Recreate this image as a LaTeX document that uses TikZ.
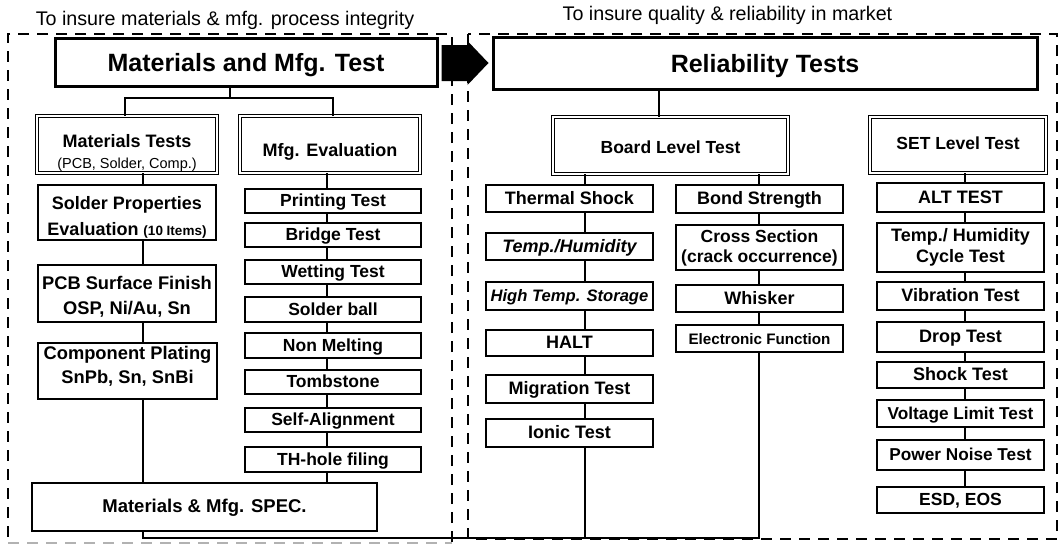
\documentclass[tikz,border=0pt]{standalone}
\usepackage{fontspec}
\setmainfont{Liberation Sans}
\begin{document}
\begin{tikzpicture}[x=1pt,y=-1pt,
  box/.style={draw, line width=1.3pt, inner sep=0pt, align=center, font=\bfseries\fontsize{17.5}{21}\selectfont},
  one/.style={text height=11pt, text depth=0pt},
  bigbox/.style={box, line width=3pt, font=\bfseries\fontsize{25}{28}\selectfont, text height=18pt, text depth=0pt},
  dbox/.style={box, double, double distance=2.4pt, line width=0.9pt},
  sz/.style 2 args={minimum width=#1pt, minimum height=#2pt},
  conn/.style={line width=1.8pt},
  dframe/.style={line width=1.8pt, dash pattern=on 11pt off 8pt},
  captxt/.style={font=\fontsize{19.7}{22}\selectfont, anchor=base}]
\useasboundingbox (0,0) rectangle (1061,547);
\fill[white] (0,0) rectangle (1061,547);

% captions
\node[captxt] (c1) at (225,25) {To insure materials \& mfg. process integrity};
\node[captxt] (c2) at (727.5,20.5) {To insure quality \& reliability in market};

% dashed frames
\draw[dframe] (452,542) -- (452,34) -- (8,34) -- (8,542);
\draw[dframe, gray!60, line width=1.2pt] (8,543) -- (452,543);
\draw[dframe] (468,34) rectangle (1057,539);

% left part
\node[bigbox, sz={382}{48}] (mmt) at (246,62) {Materials and Mfg. Test};
\node[dbox, sz={180}{57}] (mt) at (127,144.5) {\rule{0pt}{29pt}\fontsize{18}{23}\selectfont Materials Tests\\{\mdseries\fontsize{14.5}{16}\selectfont (PCB, Solder, Comp.)}};
\node[dbox, sz={180}{57}, font=\bfseries\fontsize{18}{21}\selectfont, text height=24pt, text depth=0pt] (me) at (330,144.5) {Mfg. Evaluation};

\node[box, sz={178}{55}, font=\bfseries\fontsize{18}{26}\selectfont] (sp) at (127,212.5) {\rule{0pt}{22pt}Solder Properties\\Evaluation {\fontsize{13.5}{15}\selectfont(10 Items)}};
\node[box, sz={178}{57}, font=\bfseries\fontsize{18.3}{25}\selectfont] (pcb) at (127,293.5) {\rule{0pt}{20pt}PCB Surface Finish\\OSP, Ni/Au, Sn};
\node[box, sz={179}{56}, font=\bfseries\fontsize{18.3}{24}\selectfont] (cp) at (127.5,371) {Component Plating\\SnPb, Sn, SnBi\rule[-12pt]{0pt}{12pt}};
\node[box, one, sz={345}{48}, font=\bfseries\fontsize{18.5}{21}\selectfont] (spec) at (204.5,507) {Materials \& Mfg. SPEC.};

\node[box, one, sz={176}{24}] (pt) at (333,201) {Printing Test};
\node[box, one, sz={176}{24}] (bt) at (333,235) {Bridge Test};
\node[box, one, sz={176}{24}] (wt) at (333,272) {Wetting Test};
\node[box, one, sz={176}{25}] (sb) at (333,309.5) {Solder ball};
\node[box, one, sz={176}{25}] (nm) at (333,345.5) {Non Melting};
\node[box, one, sz={176}{24}] (ts) at (333,382) {Tombstone};
\node[box, one, sz={176}{24}] (sa) at (333,420) {Self-Alignment};
\node[box, one, sz={176}{25}] (th) at (333,459.5) {TH-hole filing};

% left connectors
\coordinate (ja) at (125,98);
\coordinate (jb) at (333,98);
\coordinate (jc) at (230,98);
\coordinate (ca) at (143,0);
\coordinate (cb) at (327,0);
\draw[conn] (mmt.south -| jc) -- (jc);
\draw[conn] (mt.north -| ja) -- (ja) -- (jb) -- (me.north -| jb);
\draw[conn] (mt.south -| ca) -- (sp.north -| ca);
\draw[conn] (sp.south -| ca) -- (pcb.north -| ca);
\draw[conn] (pcb.south -| ca) -- (cp.north -| ca);
\draw[conn] (cp.south -| ca) -- (spec.north -| ca);
\draw[conn] (me.south -| cb) -- (pt.north -| cb);
\draw[conn] (pt.south -| cb) -- (bt.north -| cb);
\draw[conn] (bt.south -| cb) -- (wt.north -| cb);
\draw[conn] (wt.south -| cb) -- (sb.north -| cb);
\draw[conn] (sb.south -| cb) -- (nm.north -| cb);
\draw[conn] (nm.south -| cb) -- (ts.north -| cb);
\draw[conn] (ts.south -| cb) -- (sa.north -| cb);
\draw[conn] (sa.south -| cb) -- (th.north -| cb);
\draw[conn] (th.south -| cb) -- (spec.north -| cb);

% right part
\node[bigbox, sz={544}{52}] (rt) at (765,63) {Reliability Tests};
\node[dbox, sz={235}{57}, text height=15.5pt, text depth=0pt] (blt) at (670.5,145.5) {Board Level Test};
\node[dbox, sz={176}{56}, text height=9pt, text depth=0pt] (slt) at (958,145) {SET Level Test};

\node[box, one, sz={167}{27}, font=\bfseries\fontsize{18}{21}\selectfont] (tsh) at (569.5,198.5) {Thermal Shock};
\node[box, one, sz={167}{27}, font=\bfseries\itshape\fontsize{18}{21}\selectfont] (hum) at (569.5,246.5) {Temp./Humidity};
\node[box, one, sz={167}{28}, font=\bfseries\itshape\fontsize{16.6}{21}\selectfont] (hts) at (569.5,296) {High Temp. Storage};
\node[box, one, sz={167}{26}, font=\bfseries\fontsize{18}{21}\selectfont] (halt) at (569.5,343) {HALT};
\node[box, one, sz={167}{28}, font=\bfseries\fontsize{18}{21}\selectfont] (mig) at (569.5,389) {Migration Test};
\node[box, one, sz={167}{28}, font=\bfseries\fontsize{18}{21}\selectfont] (ion) at (569.5,433) {Ionic Test};

\node[box, one, sz={167}{28}, font=\bfseries\fontsize{18}{21}\selectfont] (bs) at (759.5,199) {Bond Strength};
\node[box, sz={167}{45}, font=\bfseries\fontsize{17.5}{20}\selectfont] (cs) at (759.5,247.5) {Cross Section\\(crack occurrence)};
\node[box, one, sz={167}{27}, font=\bfseries\fontsize{18}{21}\selectfont] (wh) at (759.5,298.5) {Whisker};
\node[box, one, sz={167}{27}, font=\bfseries\fontsize{15.2}{18}\selectfont] (ef) at (759.5,338.5) {Electronic Function};

\node[box, one, sz={167}{29}, font=\bfseries\fontsize{18}{21}\selectfont] (alt) at (960.5,197.5) {ALT TEST};
\node[box, sz={167}{49}, font=\bfseries\fontsize{18}{21}\selectfont] (thc) at (960.5,247.5) {Temp./ Humidity\\Cycle Test};
\node[box, one, sz={167}{28}, font=\bfseries\fontsize{18}{21}\selectfont] (vib) at (960.5,296) {Vibration Test};
\node[box, one, sz={167}{30}, font=\bfseries\fontsize{18}{21}\selectfont] (drop) at (960.5,337) {Drop Test};
\node[box, one, sz={167}{26}, font=\bfseries\fontsize{18}{21}\selectfont] (shock) at (960.5,375) {Shock Test};
\node[box, one, sz={167}{27}, font=\bfseries\fontsize{17.2}{21}\selectfont] (volt) at (960.5,413.5) {Voltage Limit Test};
\node[box, one, sz={167}{30}, font=\bfseries\fontsize{17.2}{21}\selectfont] (pn) at (960.5,455) {Power Noise Test};
\node[box, one, sz={167}{26}, font=\bfseries\fontsize{17.5}{21}\selectfont] (esd) at (960.5,500) {ESD, EOS};

% right connectors
\coordinate (cr) at (659,0);
\coordinate (cl) at (585,0);
\coordinate (cm) at (759,0);
\coordinate (cs2) at (965,0);
\draw[conn] (rt.south -| cr) -- (blt.north -| cr);
\draw[conn] (blt.south -| cl) -- (tsh.north -| cl);
\draw[conn] (tsh.south -| cl) -- (hum.north -| cl);
\draw[conn] (hum.south -| cl) -- (hts.north -| cl);
\draw[conn] (hts.south -| cl) -- (halt.north -| cl);
\draw[conn] (halt.south -| cl) -- (mig.north -| cl);
\draw[conn] (mig.south -| cl) -- (ion.north -| cl);
\draw[conn] (blt.south -| cm) -- (bs.north -| cm);
\draw[conn] (bs.south -| cm) -- (cs.north -| cm);
\draw[conn] (cs.south -| cm) -- (wh.north -| cm);
\draw[conn] (wh.south -| cm) -- (ef.north -| cm);
\draw[conn] (slt.south -| cs2) -- (alt.north -| cs2);
\draw[conn] (alt.south -| cs2) -- (thc.north -| cs2);
\draw[conn] (thc.south -| cs2) -- (vib.north -| cs2);
\draw[conn] (vib.south -| cs2) -- (drop.north -| cs2);
\draw[conn] (drop.south -| cs2) -- (shock.north -| cs2);
\draw[conn] (shock.south -| cs2) -- (volt.north -| cs2);
\draw[conn] (volt.south -| cs2) -- (pn.north -| cs2);
\draw[conn] (pn.south -| cs2) -- (esd.north -| cs2);

% feedback loop along the bottom
\coordinate (bl) at (143,538);
\coordinate (bm) at (585,538);
\coordinate (br) at (759,538);
\draw[conn] (spec.south -| bl) -- (bl) -- (br) -- (ef.south -| br);
\draw[conn] (ion.south -| bm) -- (bm);

% big arrow between the two stages
\fill (mmt.east) ++(3,-17) -- ++(26,0) -- ++(0,-4) -- ++(21,22) -- ++(-21,22) -- ++(0,-4) -- ++(-26,0) -- cycle;
\end{tikzpicture}
\end{document}
